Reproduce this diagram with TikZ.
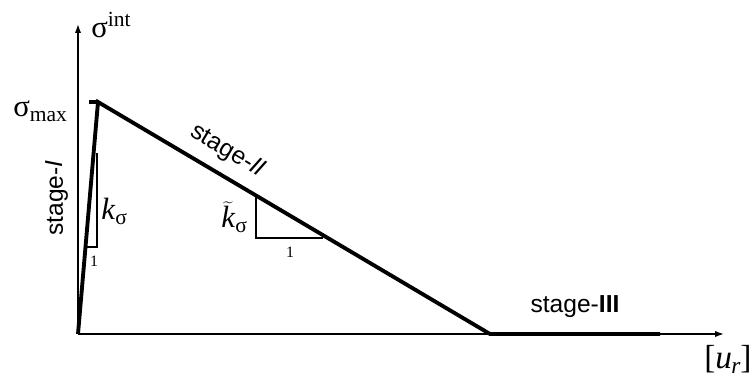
\documentclass[tikz,border=0pt]{standalone}
\usepackage{fontspec}
\setmainfont{Liberation Serif}
\newfontfamily\stagefont{Liberation Sans}
\usetikzlibrary{arrows.meta}

\begin{document}
\begin{tikzpicture}[
    x=0.02cm, y=-0.02cm,
    axis/.style={line width=0.8pt, -{Latex[length=5pt, width=3.5pt]}},
    curve/.style={line width=2.2pt, line join=miter},
    slope/.style={line width=1.1pt},
    sym/.style={font=\fontsize{17.5}{20}\selectfont, inner sep=0pt},
    stage/.style={font=\stagefont\fontsize{14}{16}\selectfont, inner sep=0pt},
    unit/.style={font=\fontsize{9}{10}\selectfont, inner sep=0pt}
]
\useasboundingbox (0,0) rectangle (750,374);

% Points
\coordinate (o) at (78,334);
\coordinate (ytip) at (78,24);
\coordinate (xtip) at (724,334);
\coordinate (peak) at (98,102);
\coordinate (soft) at (490,334);
\coordinate (flat) at (660,334);

% Axes
\draw[axis] (o) -- (ytip);
\draw[axis] (o) -- (xtip);

% Law
\draw[curve] (89,102) -- (peak);
\draw[curve] (o) -- (peak)
    -- node[stage, sloped, above=6pt, pos=0.3] {stage-\textit{II}} (soft)
    -- node[stage, above=8pt] {stage-\textbf{III}} (flat);

% Slope triangles
\draw[slope] (97,153) -- (97,247) -- (87,247);
\draw[slope] (256,196) -- (256,238) -- (323,238);

% Labels
\node[sym, anchor=base west] (sint) at (91,38) {σ\textsuperscript{int}};
\node[sym, anchor=base west] (smax) at (13,117) {σ\textsubscript{max}};
\node[stage, rotate=90] (st1) at (57,198) {stage-\textit{I}};
\node[sym, anchor=base west] (ks) at (101,220) {\textit{k}\textsubscript{σ}};
\node[unit] (one1) at (94,261) {1};
\node[sym, anchor=base west] (kt) at (221,228) {$\widetilde{\mbox{\textit{k}}}$\textsubscript{σ}};
\node[unit] (one2) at (290,252) {1};
\node[sym, font=\fontsize{19}{22}\selectfont, anchor=base west] (ur) at (704,369)
    {[\textit{u}\kern-0.5pt\textsubscript{\textit{r}}\kern-0.5pt]};

\end{tikzpicture}
\end{document}
